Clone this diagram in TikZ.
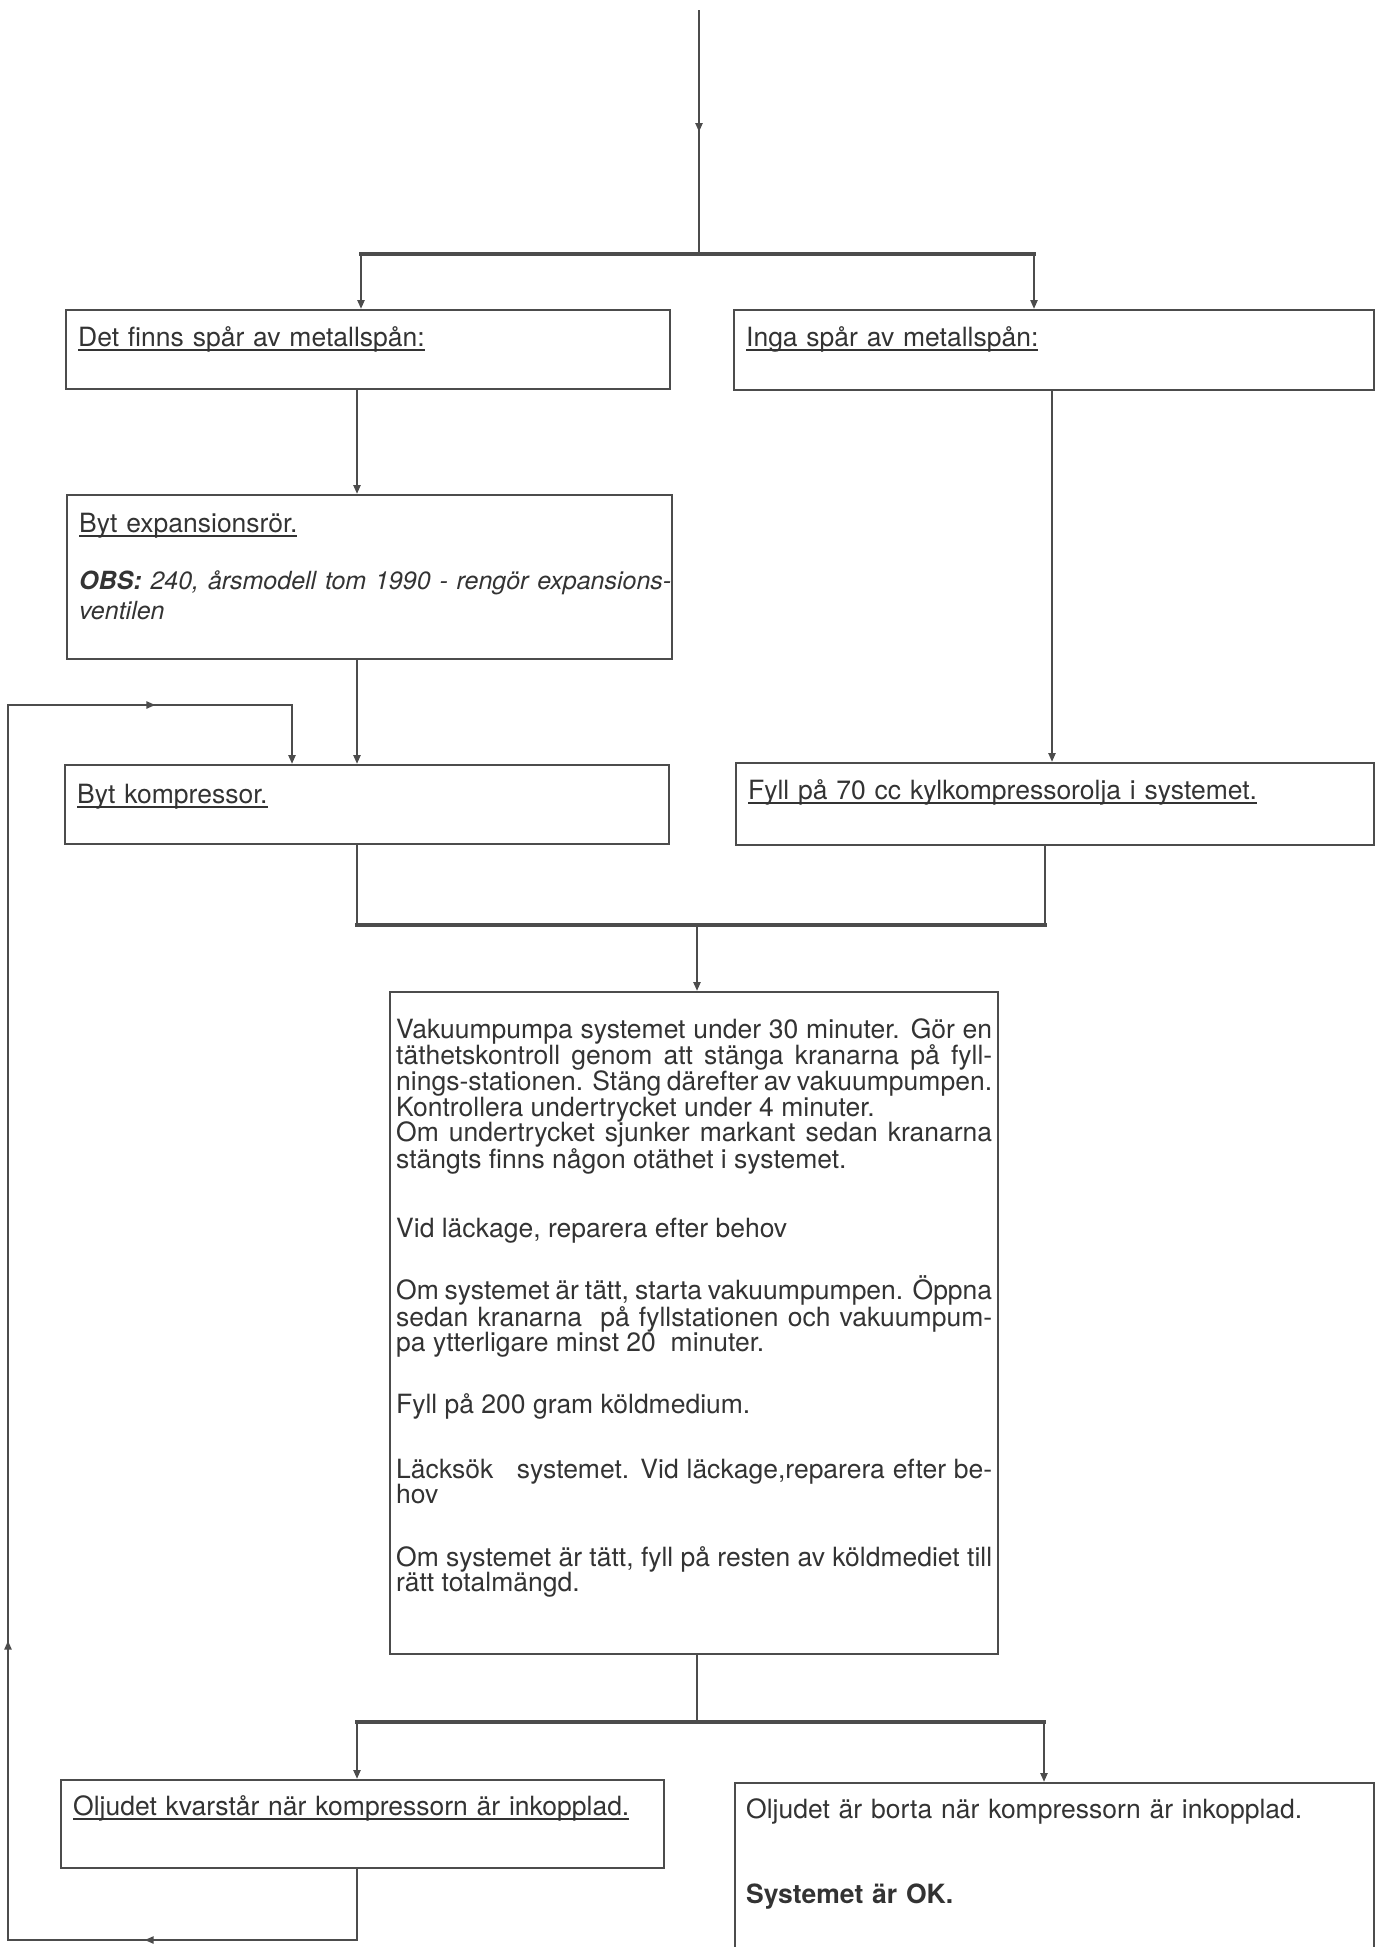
\documentclass[tikz,border=0pt]{standalone}
\usepackage{fontspec}
\setmainfont{TeX Gyre Heros}
\usetikzlibrary{arrows.meta, decorations.markings}

\colorlet{linecol}{black!70}
\colorlet{textcol}{black!80}
\newcommand{\boxfont}{\fontsize{26.5}{27}\selectfont}
\newcommand{\ulbox}[1]{\setbox0=\hbox{#1}\rlap{\rule[-4.5pt]{\wd0}{1.6pt}}\box0}

\tikzset{
	box/.style={draw=linecol, line width=2.4pt, anchor=north west, align=left, inner xsep=12pt, inner ysep=0pt, text=textcol, font=\boxfont},
	conn/.style={draw=linecol, line width=2.2pt, line join=miter},
	bar/.style={draw=linecol, line width=3.5pt, line cap=rect},
	tipat/.style={postaction={decorate, decoration={markings, mark=at position #1 with {\arrow{Triangle[length=9pt,width=7pt]}}}}}
}

\begin{document}
\begin{tikzpicture}[x=1pt, y=-1pt, >={Triangle[length=9pt,width=7pt]}]
	\useasboundingbox (0,0) rectangle (1375,1947);
	\clip (0,0) rectangle (1375,1947);

	% boxes
	\node[box, text width=580pt, text height=36pt, text depth=43pt] (metal) at (65,309) {\ulbox{Det finns spår av metallspån:}};
	\node[box, text width=616pt, text height=36pt, text depth=44pt] (nometal) at (733,309) {\ulbox{Inga spår av metallspån:}};
	\node[box, text width=581pt, text height=37pt, text depth=127pt] (expansion) at (66,494) {\ulbox{Byt expansionsrör.}\\[30pt]
		\mbox{\fontsize{25}{27}\selectfont\itshape\textbf{OBS:} 240, årsmodell tom 1990 - rengör expansions-}\\[3pt]
		{\fontsize{25}{27}\selectfont\itshape ventilen}};
	\node[box, text width=580pt, text height=38pt, text depth=41pt] (compressor) at (64,764) {\ulbox{Byt kompressor.}};
	\node[box, text width=614pt, text height=36pt, text depth=46pt] (oil) at (735,762) {\ulbox{Fyll på 70 cc kylkompressorolja i systemet.}};
	\node[box, align=justify, inner xsep=6pt, font={\fontsize{26.5}{25.6}\selectfont}, text width=596pt, text height=46pt, text depth=616pt] (vacuum) at (389,991) {%
		Vakuumpumpa systemet under 30 minuter. Gör en\linebreak
		täthetskontroll genom att stänga kranarna på fyll-\linebreak
		nings-stationen. Stäng därefter av vakuumpumpen.\linebreak
		Kontrollera undertrycket under 4 minuter.\\
		Om undertrycket sjunker markant sedan kranarna\linebreak
		stängts finns någon otäthet i systemet.\\[44pt]
		Vid läckage, reparera efter behov\\[31pt]
		Om systemet är tätt, starta vakuumpumpen. Öppna\linebreak
		sedan kranarna\ \ på fyllstationen och vakuumpum-\linebreak
		pa ytterligare minst 20\ \ minuter.\\[35pt]
		Fyll på 200 gram köldmedium.\\[39pt]
		Läcksök\ \ \ systemet. Vid läckage,reparera efter be-\linebreak
		hov\\[37pt]
		Om systemet är tätt, fyll på resten av köldmediet till\linebreak
		rätt totalmängd.};
	\node[box, text width=579pt, text height=35pt, text depth=53pt] (noise) at (60,1779) {\ulbox{Oljudet kvarstår när kompressorn är inkopplad.}};
	\node[box, inner xsep=11pt, text width=617pt, text height=35pt, text depth=170pt] (ok) at (734,1782) {Oljudet är borta när kompressorn är inkopplad.\\[58pt]
		\textbf{Systemet är OK.}};

	% forks and joins
	\coordinate (top) at (699,10);
	\coordinate (fork1C) at (699,254);
	\coordinate (fork1L) at (361,254);
	\coordinate (fork1R) at (1034,254);
	\coordinate (col1) at (357,0);
	\coordinate (col2) at (1052,0);
	\coordinate (merge2L) at (357,925);
	\coordinate (merge2R) at (1045,925);
	\coordinate (merge2C) at (697,925);
	\coordinate (fork3L) at (357,1722);
	\coordinate (fork3R) at (1044,1722);
	\coordinate (fork3C) at (697,1722);
	\coordinate (loopA) at (357,1940);
	\coordinate (loopB) at (8,1940);
	\coordinate (loopC) at (8,705);
	\coordinate (loopD) at (292,705);

	\draw[conn, tipat=122pt] (top) -- (fork1C);
	\draw[bar] (fork1L) -- (fork1R);
	\draw[conn, ->] (fork1L) -- (fork1L |- metal.north);
	\draw[conn, ->] (fork1R) -- (fork1R |- nometal.north);
	\draw[conn, ->] (metal.south -| col1) -- (expansion.north -| col1);
	\draw[conn, ->] (nometal.south -| col2) -- (oil.north -| col2);
	\draw[conn, ->] (expansion.south -| col1) -- (compressor.north -| col1);

	\draw[conn] (compressor.south -| merge2L) -- (merge2L);
	\draw[conn] (oil.south -| merge2R) -- (merge2R);
	\draw[bar] (merge2L) -- (merge2R);
	\draw[conn, ->] (merge2C) -- (merge2C |- vacuum.north);

	\draw[conn] (vacuum.south -| fork3C) -- (fork3C);
	\draw[bar] (fork3L) -- (fork3R);
	\draw[conn, ->] (fork3L) -- (fork3L |- noise.north);
	\draw[conn, ->] (fork3R) -- (fork3R |- ok.north);

	% back to compressor
	\draw[conn, tipat=283pt, tipat=719pt, tipat=1802pt, ->] (noise.south -| loopA) -- (loopA) -- (loopB) -- (loopC) -- (loopD) -- (loopD |- compressor.north);
\end{tikzpicture}
\end{document}
